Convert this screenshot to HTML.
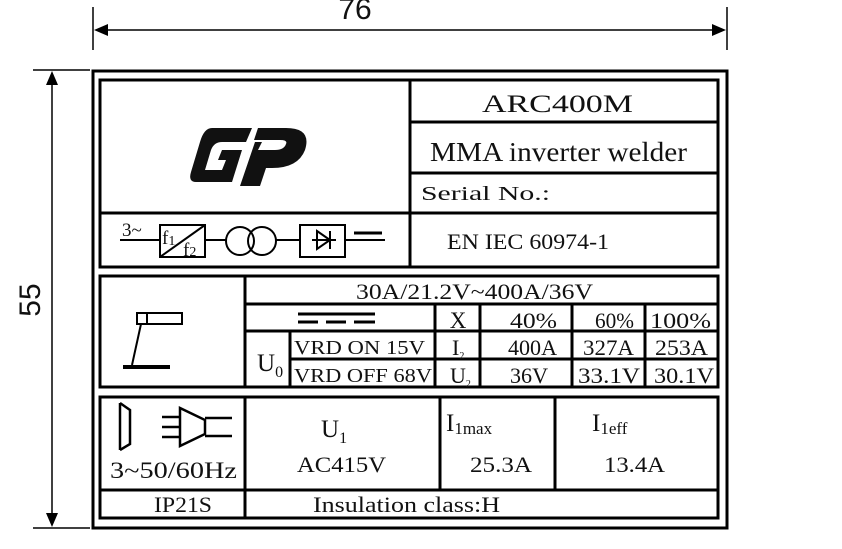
<!DOCTYPE html>
<html><head><meta charset="utf-8"><style>
html,body{margin:0;padding:0;background:#fff;width:842px;height:549px;overflow:hidden}
svg{display:block}
text{font-family:"Liberation Serif",serif;fill:#111}
</style></head><body>
<svg width="842" height="549" viewBox="0 0 842 549" xmlns="http://www.w3.org/2000/svg">
<g stroke="#000" stroke-width="1.5" fill="none">
<line x1="93" y1="7" x2="93" y2="50"/>
<line x1="727" y1="7" x2="727" y2="50"/>
<line x1="100" y1="30" x2="720" y2="30"/>
<line x1="33" y1="70" x2="90" y2="70"/>
<line x1="33" y1="528" x2="90" y2="528"/>
<line x1="52" y1="76" x2="52" y2="522"/>
</g>
<path d="M94,30 L108,24 L108,36 Z" fill="#000"/>
<path d="M726,30 L712,24 L712,36 Z" fill="#000"/>
<path d="M52,71 L46,85 L58,85 Z" fill="#000"/>
<path d="M52,527 L46,513 L58,513 Z" fill="#000"/>
<text x="355" y="19" style="font-family:'Liberation Sans',sans-serif" font-size="30" text-anchor="middle">76</text>
<text transform="translate(40,300) rotate(-90)" style="font-family:'Liberation Sans',sans-serif" font-size="30" text-anchor="middle">55</text>

<rect x="93" y="71" width="634" height="457" fill="none" stroke="#000" stroke-width="3"/>
<g stroke="#000" stroke-width="3" fill="none">
<rect x="100" y="80" width="618" height="187"/>
<line x1="410" y1="80" x2="410" y2="267"/>
<line x1="410" y1="122" x2="718" y2="122"/>
<line x1="410" y1="173" x2="718" y2="173"/>
<line x1="100" y1="213" x2="718" y2="213"/>
<rect x="100" y="276" width="618" height="111"/>
<line x1="245" y1="276" x2="245" y2="387"/>
<line x1="245" y1="304" x2="718" y2="304"/>
<line x1="245" y1="331" x2="718" y2="331"/>
<line x1="290" y1="359" x2="718" y2="359"/>
<line x1="290" y1="331" x2="290" y2="387"/>
<line x1="435" y1="304" x2="435" y2="387"/>
<line x1="480" y1="304" x2="480" y2="387"/>
<line x1="572" y1="304" x2="572" y2="387"/>
<line x1="645" y1="304" x2="645" y2="387"/>
<rect x="100" y="397" width="618" height="121"/>
<line x1="245" y1="397" x2="245" y2="518"/>
<line x1="440" y1="397" x2="440" y2="490"/>
<line x1="555" y1="397" x2="555" y2="490"/>
<line x1="100" y1="490" x2="718" y2="490"/>
</g>

<g fill="#111">
<path d="M212,128 L252,128 L246,142 L222,142 Q214,142 211,150 L205,170 L222,170 L226,160 L218,160 L222,150 L242,150 L232,182 L196,182 Q188,182 191,172 L200,142 Q204,128 212,128 Z"/>
<path d="M258,128 L286,128 Q312,128 305,150 Q298,168 272,168 L266,168 L260,186 L240,186 L255,142 L262,142 L258,150 L275,150 Q284,150 286,144 Q288,140 280,140 L254,140 Z"/>
</g>

<g stroke="#000" stroke-width="2" fill="none">
<line x1="120" y1="240" x2="160" y2="240"/>
<rect x="160" y="225" width="45" height="32"/>
<line x1="160" y1="257" x2="205" y2="225"/>
<line x1="205" y1="240" x2="226" y2="240"/>
<circle cx="240" cy="241" r="14"/>
<circle cx="262" cy="241" r="14"/>
<line x1="276" y1="240" x2="300" y2="240"/>
<rect x="300" y="225" width="45" height="32"/>
<line x1="345" y1="240" x2="385" y2="240"/>
<line x1="312" y1="240" x2="336" y2="240"/>
<line x1="330" y1="231" x2="330" y2="249"/>
</g>
<path d="M317,231 L330,240 L317,249 Z" fill="none" stroke="#000" stroke-width="2"/>
<line x1="354" y1="233" x2="382" y2="233" stroke="#000" stroke-width="3"/>
<text x="122" y="236" font-size="19">3~</text>
<text x="162" y="244" font-size="19">f<tspan font-size="14" dy="1">1</tspan></text>
<text x="183" y="256" font-size="19">f<tspan font-size="14">2</tspan></text>

<g lengthAdjust="spacingAndGlyphs">
<text x="482" y="112" font-size="25" textLength="151" lengthAdjust="spacingAndGlyphs">ARC400M</text>
<text x="430" y="161" font-size="27" textLength="257" lengthAdjust="spacingAndGlyphs">MMA inverter welder</text>
<text x="421" y="200" font-size="20" textLength="129" lengthAdjust="spacingAndGlyphs">Serial No.:</text>
<text x="447" y="249" font-size="22" textLength="162" lengthAdjust="spacingAndGlyphs">EN IEC 60974-1</text>
</g>

<g stroke="#000" stroke-width="2" fill="none">
<rect x="137" y="313" width="45" height="11"/>
<line x1="147" y1="313" x2="147" y2="324"/>
<line x1="141" y1="324" x2="132" y2="365"/>
</g>
<line x1="123" y1="367" x2="170" y2="367" stroke="#000" stroke-width="4"/>

<text x="356" y="299" font-size="22" textLength="237" lengthAdjust="spacingAndGlyphs">30A/21.2V~400A/36V</text>
<g stroke="#000" stroke-width="3">
<line x1="298" y1="314" x2="375" y2="314"/>
<line x1="298" y1="322" x2="318" y2="322"/>
<line x1="326" y1="322" x2="346" y2="322"/>
<line x1="354" y1="322" x2="375" y2="322"/>
</g>
<text x="458" y="328" font-size="23" text-anchor="middle">X</text>
<text x="510" y="328" font-size="22" textLength="47" lengthAdjust="spacingAndGlyphs">40%</text>
<text x="595" y="328" font-size="22" textLength="39" lengthAdjust="spacingAndGlyphs">60%</text>
<text x="650" y="328" font-size="22" textLength="61" lengthAdjust="spacingAndGlyphs">100%</text>
<text x="257" y="371" font-size="25">U<tspan font-size="16" dy="6">0</tspan></text>
<text x="294" y="354" font-size="20" textLength="131" lengthAdjust="spacingAndGlyphs">VRD ON  15V</text>
<text x="294" y="382" font-size="20" textLength="138" lengthAdjust="spacingAndGlyphs">VRD OFF 68V</text>
<text x="452" y="355" font-size="22">I<tspan font-size="10" dy="4">2</tspan></text>
<text x="450" y="383" font-size="22">U<tspan font-size="10" dy="4">2</tspan></text>
<text x="508" y="355" font-size="22" textLength="49" lengthAdjust="spacingAndGlyphs">400A</text>
<text x="583" y="355" font-size="22" textLength="51" lengthAdjust="spacingAndGlyphs">327A</text>
<text x="655" y="355" font-size="22" textLength="53" lengthAdjust="spacingAndGlyphs">253A</text>
<text x="510" y="383" font-size="22" textLength="38" lengthAdjust="spacingAndGlyphs">36V</text>
<text x="578" y="383" font-size="22" textLength="62" lengthAdjust="spacingAndGlyphs">33.1V</text>
<text x="654" y="383" font-size="22" textLength="60" lengthAdjust="spacingAndGlyphs">30.1V</text>

<g stroke="#000" stroke-width="2.5" fill="none">
<line x1="120" y1="403" x2="120" y2="450"/>
<path d="M120,403 L130,410 L130,444 L120,450"/>
<line x1="162" y1="417" x2="180" y2="417"/>
<line x1="162" y1="427" x2="180" y2="427"/>
<line x1="162" y1="437" x2="180" y2="437"/>
<path d="M180,408 L180,446 L205,434 L205,420 Z"/>
<line x1="205" y1="418" x2="232" y2="418"/>
<line x1="205" y1="436" x2="232" y2="436"/>
</g>
<text x="110" y="478" font-size="23" textLength="127" lengthAdjust="spacingAndGlyphs">3~50/60Hz</text>
<text x="321" y="437" font-size="25">U<tspan font-size="16" dy="6">1</tspan></text>
<text x="297" y="472" font-size="22" textLength="89" lengthAdjust="spacingAndGlyphs">AC415V</text>
<text x="446" y="431" font-size="25">I<tspan font-size="17" dy="3">1max</tspan></text>
<text x="470" y="472" font-size="22" textLength="62" lengthAdjust="spacingAndGlyphs">25.3A</text>
<text x="592" y="431" font-size="25">I<tspan font-size="17" dy="3">1eff</tspan></text>
<text x="604" y="472" font-size="22" textLength="61" lengthAdjust="spacingAndGlyphs">13.4A</text>
<text x="154" y="512" font-size="22" textLength="58" lengthAdjust="spacingAndGlyphs">IP21S</text>
<text x="313" y="512" font-size="22" textLength="187" lengthAdjust="spacingAndGlyphs">Insulation class:H</text>
</svg>
</body></html>
